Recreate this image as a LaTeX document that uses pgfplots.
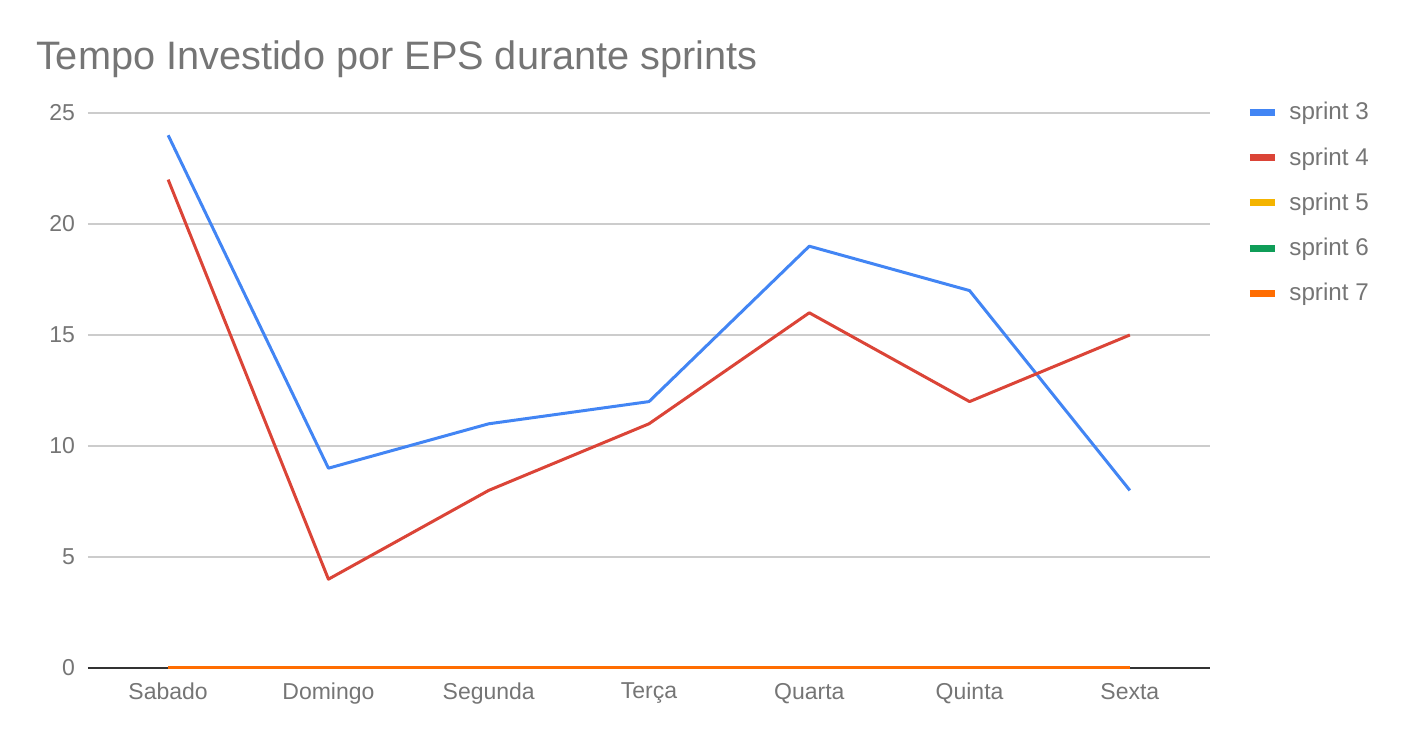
\documentclass[border=0pt]{standalone}
\usepackage{pgfplots}
\pgfplotsset{compat=1.18}
\usepackage{fontspec}
\setmainfont{Liberation Sans}

\definecolor{gblue}{HTML}{4285F4}
\definecolor{gred}{HTML}{DB4437}
\definecolor{gyellow}{HTML}{F4B400}
\definecolor{ggreen}{HTML}{0F9D58}
\definecolor{gorange}{HTML}{FF6D01}
\definecolor{txt}{HTML}{757575}
\definecolor{gridc}{HTML}{CCCCCC}

\begin{document}
\begin{tikzpicture}
\begin{axis}[
  name=ax,
  scale only axis,
  width=561pt, height=277.5pt,
  xmin=-0.5, xmax=6.5,
  ymin=0, ymax=25,
  clip=false,
  axis line style={draw=none},
  tick style={draw=none},
  xtick={0,...,6},
  xticklabels={Sabado,Domingo,Segunda,Terça,Quarta,Quinta,Sexta},
  ytick={0,5,...,25},
  ymajorgrids,
  grid style={gridc, line width=0.6pt},
  extra y ticks={0},
  extra y tick labels={},
  extra y tick style={grid style={black!80, line width=0.8pt}},
  ticklabel style={font=\fontsize{11.5}{12}\selectfont, text=txt},
  /pgf/number format/assume math mode=true,
  xticklabel style={yshift=-4pt},
  yticklabel style={xshift=-3pt},
  title={Tempo Investido por EPS durante sprints},
  title style={at={(rel axis cs:0,1)}, anchor=base west, xshift=-29.5pt, yshift=15.5pt,
    font=\fontsize{19.85}{20}\selectfont, text=txt},
  legend style={at={(rel axis cs:1,1)}, anchor=north west, xshift=15pt, yshift=9.5pt,
    draw=none, fill=none, font=\fontsize{12.1}{12.5}\selectfont, text=txt,
    row sep=8.3pt},
  legend cell align=left,
  legend image code/.code={\draw[#1, line width=3.5pt] (0pt,0pt) -- (12.5pt,0pt); \path (17pt,0pt);},
  every axis plot/.append style={line width=1.5pt, mark=none, line join=round},
]
\addplot[gblue] coordinates {(0,24) (1,9) (2,11) (3,12) (4,19) (5,17) (6,8)};
\addlegendentry{sprint 3}
\addplot[gred] coordinates {(0,22) (1,4) (2,8) (3,11) (4,16) (5,12) (6,15)};
\addlegendentry{sprint 4}
\addplot[gyellow] coordinates {(0,0) (1,0) (2,0) (3,0) (4,0) (5,0) (6,0)};
\addlegendentry{sprint 5}
\addplot[ggreen] coordinates {(0,0) (1,0) (2,0) (3,0) (4,0) (5,0) (6,0)};
\addlegendentry{sprint 6}
\addplot[gorange] coordinates {(0,0) (1,0) (2,0) (3,0) (4,0) (5,0) (6,0)};
\addlegendentry{sprint 7}
\end{axis}
\path ([xshift=-44pt,yshift=-37pt]ax.south west) rectangle ([xshift=98pt,yshift=56.5pt]ax.north east);
\end{tikzpicture}
\end{document}
